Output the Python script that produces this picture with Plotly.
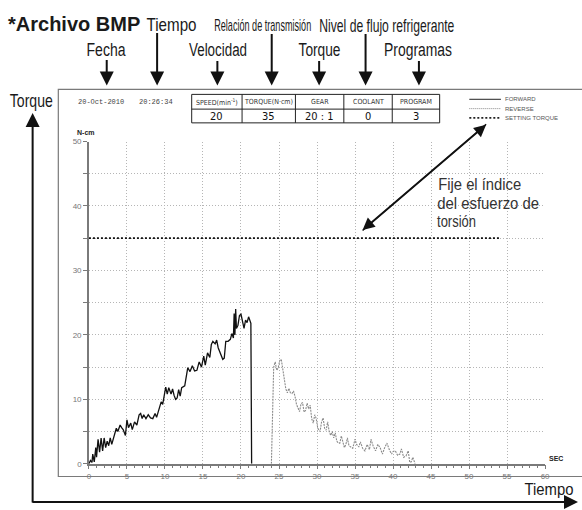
import json
import plotly.graph_objects as go

W, H = 582, 510

# ---------------- data ----------------
forward_t = [0.0, 0.2, 0.4, 0.5, 0.7, 0.9, 1.0, 1.2, 1.4, 1.6, 1.8, 2.0, 2.2, 2.4, 2.6, 2.8, 3.0,
             3.3, 3.6, 3.8, 4.1, 4.3, 4.5, 4.8, 5.0, 5.2, 5.5, 5.7, 6.0, 6.3, 6.6, 6.8, 7.0, 7.2,
             7.5, 7.8, 8.1, 8.4, 8.7, 8.9, 9.1, 9.3, 9.5, 9.7, 9.9, 10.1, 10.3, 10.5, 10.8, 11.0,
             11.2, 11.4, 11.6, 11.8, 12.0, 12.2, 12.6, 13.0, 13.3, 13.6, 13.9, 14.2, 14.5, 14.8,
             15.1, 15.3, 15.6, 15.9, 16.1, 16.3, 16.6, 16.8, 17.0, 17.3, 17.6, 17.8, 18.0, 18.3,
             18.6, 18.8, 19.0, 19.1, 19.2, 19.3, 19.4, 19.6, 19.8, 20.0, 20.2, 20.4, 20.6, 20.8,
             21.0, 21.2, 21.3, 21.4]
forward_v = [0.0, 0.5, 0.2, 1.5, 0.3, 2.5, 1.0, 3.8, 1.8, 4.0, 2.0, 4.0, 2.5, 3.5, 2.8, 4.0, 3.0,
             4.2, 5.5, 5.0, 6.0, 5.6, 5.3, 4.4, 6.8, 5.6, 6.3, 5.3, 6.5, 6.0, 7.6, 7.8, 7.0, 7.6,
             7.0, 7.6, 7.1, 7.0, 7.8, 7.2, 8.0, 8.6, 9.6, 9.2, 10.5, 11.9, 10.8, 11.8, 10.8, 11.6,
             10.6, 10.0, 10.2, 11.5, 10.5, 11.8, 12.1, 14.9, 14.3, 15.2, 14.4, 14.5, 15.8, 15.0,
             16.7, 15.3, 17.2, 16.5, 18.5, 19.0, 18.6, 19.2, 18.0, 17.0, 16.2, 16.4, 19.0, 19.0,
             19.3, 20.2, 19.5, 23.3, 20.0, 24.0, 21.0, 21.5, 23.0, 23.2, 22.0, 21.0, 22.3, 21.9,
             22.8, 22.0, 21.8, 0.0]

reverse_t = [24.0, 24.2, 24.3, 24.5, 24.7, 24.9, 25.1, 25.3, 25.5, 25.7, 25.9, 26.1, 26.3, 26.5,
             26.7, 26.9, 27.1, 27.3, 27.5, 27.7, 27.9, 28.1, 28.3, 28.5, 28.7, 28.9, 29.1, 29.3,
             29.5, 29.7, 29.9, 30.1, 30.4, 30.6, 30.8, 31.0, 31.2, 31.4, 31.6, 31.8, 32.0, 32.2,
             32.4, 32.6, 32.8, 33.0, 33.2, 33.4, 33.6, 33.8, 34.0, 34.2, 34.5, 34.7, 35.0, 35.2,
             35.5, 35.7, 36.0, 36.3, 36.6, 36.9, 37.1, 37.4, 37.7, 38.0, 38.3, 38.6, 38.9, 39.2,
             39.5, 39.8, 40.0, 40.3, 40.6, 40.9, 41.1, 41.4, 41.7, 42.0, 42.2, 42.4, 42.6, 42.9]
reverse_v = [0.0, 10.0, 15.0, 15.8, 14.5, 14.9, 16.0, 16.2, 14.5, 13.0, 11.6, 11.0, 11.7, 11.0,
             10.9, 11.3, 10.5, 9.2, 8.5, 8.1, 9.3, 9.5, 8.0, 8.3, 9.4, 8.5, 9.1, 7.0,
             6.3, 7.6, 7.0, 5.5, 5.0, 6.5, 7.1, 5.5, 5.2, 6.5, 5.0, 4.4, 5.0, 4.0,
             4.8, 3.5, 3.2, 3.2, 4.3, 3.5, 2.5, 3.0, 4.0, 2.8, 2.5, 2.4, 3.8, 3.0,
             2.6, 3.4, 2.4, 2.0, 3.0, 2.2, 3.8, 2.7, 2.0, 3.0, 2.5, 1.5, 2.5, 3.2,
             2.2, 1.5, 1.9, 2.0, 1.3, 1.5, 2.3, 1.0, 1.2, 2.0, 0.2, 0.3, 1.0, 0.0]

setting_t = [0, 54]
setting_v = [35, 35]

y_tickvals = [0, 5, 10, 15, 20, 25, 30, 35, 40, 45, 50]
y_ticktext = ["0", "", "10", "", "20", "", "30", "", "40", "", "50"]

table_headers = ["SPEED(min<sup>-1</sup>)", "TORQUE(N·cm)", "GEAR", "COOLANT", "PROGRAM"]
table_values = ["20", "35", "20 : 1", "0", "3"]
legend_labels = ["FORWARD", "REVERSE", "SETTING TORQUE"]
date_text = "20-Oct-2010"
time_text = "20:26:34"

COND = "DejaVu Sans Condensed, Liberation Sans, sans-serif"
SANS = "Liberation Sans, Arial, sans-serif"
MONO = "Liberation Mono, DejaVu Sans Mono, monospace"


def px(x):
    return x / W


def py(y):
    return 1 - y / H


fig = go.Figure()
fig.add_trace(go.Scatter(x=forward_t, y=forward_v, mode="lines",
                         line=dict(color="#111111", width=1.3), name="FORWARD"))
fig.add_trace(go.Scatter(x=reverse_t, y=reverse_v, mode="lines",
                         line=dict(color="#8a8a8a", width=1.1, dash="2px,1px"), name="REVERSE"))
fig.add_trace(go.Scatter(x=setting_t, y=setting_v, mode="lines",
                         line=dict(color="#111111", width=1.8, dash="2px,2px"), name="SETTING TORQUE"))

shapes = []
annotations = []
fit = {}

shapes.append(dict(type="rect", xref="paper", yref="paper", x0=px(57), x1=px(590), y0=py(481), y1=py(87),
                   line=dict(color="#7a7a7a", width=1.2)))

tx = [192, 243, 297, 346, 395, 443]
shapes.append(dict(type="rect", xref="paper", yref="paper", x0=px(tx[0]), x1=px(tx[-1]), y0=py(121), y1=py(92),
                   line=dict(color="#222", width=1)))
shapes.append(dict(type="line", xref="paper", yref="paper", x0=px(tx[0]), x1=px(tx[-1]), y0=py(107), y1=py(107),
                   line=dict(color="#222", width=1)))
for xx in tx[1:-1]:
    shapes.append(dict(type="line", xref="paper", yref="paper", x0=px(xx), x1=px(xx), y0=py(92), y1=py(121),
                       line=dict(color="#222", width=1)))
for i in range(5):
    cx = (tx[i] + tx[i + 1]) / 2
    annotations.append(dict(x=px(cx), y=py(99.5), xref="paper", yref="paper", text=table_headers[i],
                            showarrow=False, font=dict(family=COND, size=7, color="#333"),
                            xanchor="center", yanchor="middle"))
    annotations.append(dict(x=px(cx), y=py(114.5), xref="paper", yref="paper", text=table_values[i],
                            showarrow=False, font=dict(family=COND, size=11, color="#111"),
                            xanchor="center", yanchor="middle"))

annotations.append(dict(x=px(100), y=py(100), xref="paper", yref="paper", text=date_text, showarrow=False,
                        font=dict(family=MONO, size=7, color="#444"), xanchor="center", yanchor="middle"))
annotations.append(dict(x=px(155.5), y=py(100), xref="paper", yref="paper", text=time_text, showarrow=False,
                        font=dict(family=MONO, size=7, color="#444"), xanchor="center", yanchor="middle"))

leg_y = [97, 106.5, 116]
leg_styles = [dict(color="#222", width=1, dash="solid"),
              dict(color="#888", width=1, dash="1px,1px"),
              dict(color="#222", width=1.8, dash="2px,2px")]
for i in range(3):
    shapes.append(dict(type="line", xref="paper", yref="paper", x0=px(473), x1=px(505),
                       y0=py(leg_y[i]), y1=py(leg_y[i]), line=leg_styles[i]))
    annotations.append(dict(x=px(507), y=py(leg_y[i]), xref="paper", yref="paper", text=legend_labels[i],
                            showarrow=False, font=dict(family=SANS, size=6, color="#555"),
                            xanchor="left", yanchor="middle"))

annotations.append(dict(x=px(74), y=py(131), xref="paper", yref="paper", text="<b>N-cm</b>", showarrow=False,
                        font=dict(family=SANS, size=7, color="#222"), xanchor="left", yanchor="middle"))
annotations.append(dict(x=px(552), y=py(463), xref="paper", yref="paper", text="<b>SEC</b>", showarrow=False,
                        font=dict(family=SANS, size=7, color="#222"), xanchor="left", yanchor="middle"))


def txt(cx, cy, s, size, width=None, family=SANS, color="#1a1a1a"):
    if width is not None:
        fit[str(len(annotations))] = width
    annotations.append(dict(x=px(cx), y=py(cy), xref="paper", yref="paper", text=s, showarrow=False,
                            font=dict(family=family, size=size, color=color), xanchor="center",
                            yanchor="middle"))


txt(73, 20, "<b>*Archivo BMP</b>", 20)
txt(172, 20.5, "Tiempo", 18.5, 50)
txt(263.5, 22, "Relación de transmisión", 17, 97)
txt(389.5, 21.5, "Nivel de flujo refrigerante", 18.5, 135)
txt(105.5, 46.5, "Fecha", 18, 39)
txt(219, 46.5, "Velocidad", 18, 58)
txt(321, 46.5, "Torque", 18, 42)
txt(421, 46.5, "Programas", 18, 68)
txt(29.5, 98, "Torque", 18.5, 43)
txt(553.5, 494.5, "Tiempo", 17, 49)
txt(483.4, 184, "Fije el índice", 17, 83, color="#333")
txt(492, 203, "del esfuerzo de", 17, 102, color="#333")
txt(460.5, 221, "torsión", 17, 39, color="#333")


def arrow(x_tip, y_tip, x_tail, y_tail, width=2, size=1.4):
    annotations.append(dict(x=px(x_tip), y=py(y_tip), xref="paper", yref="paper", text="",
                            showarrow=True, arrowhead=2, arrowwidth=width, arrowsize=size,
                            arrowcolor="#111", ax=x_tail - x_tip, ay=y_tail - y_tip, axref="pixel",
                            ayref="pixel", standoff=0, startstandoff=0))


arrow(106, 83, 106, 56)
arrow(157, 83, 157, 29)
arrow(218, 83, 218, 57)
arrow(273, 83, 273, 30)
arrow(321, 83, 321, 57)
arrow(368, 83, 368, 30)
arrow(422, 83, 422, 57)
arrow(31, 111, 31, 502)
arrow(583, 507, 36, 507)
arrow(490, 123, 365, 230, 1.5, 1.6)
arrow(365, 230, 490, 123, 1.5, 1.6)

axis_font = dict(family=SANS, size=8, color="#777")

fig.update_layout(
    width=W, height=H, autosize=False,
    margin=dict(l=0, r=0, t=0, b=0),
    paper_bgcolor="white", plot_bgcolor="white",
    showlegend=False,
    shapes=shapes, annotations=annotations,
    xaxis=dict(domain=[px(88), px(549.7)], range=[0, 60], dtick=5, tick0=0,
               showgrid=True, gridcolor="#b5b5b5", griddash="1px,2px", gridwidth=1,
               showline=True, linecolor="#7a7a7a", linewidth=1.5, zeroline=False,
               ticks="outside", ticklen=4, tickcolor="#7a7a7a", tickfont=axis_font,
               minor=dict(dtick=1, ticks="outside", ticklen=2.5, tickcolor="#7a7a7a", showgrid=False)),
    yaxis=dict(domain=[py(468), py(140)], range=[0, 50], tickvals=y_tickvals, ticktext=y_ticktext,
               showgrid=True, gridcolor="#b5b5b5", griddash="1px,2px", gridwidth=1,
               showline=True, linecolor="#7a7a7a", linewidth=1.5, zeroline=False,
               ticks="outside", ticklen=4, tickcolor="#7a7a7a", tickfont=axis_font),
)

post = """
document.body.style.margin = '0';
var fit = %s;
document.querySelectorAll('g.annotation').forEach(function(g) {
  var i = g.getAttribute('data-index');
  if (fit[i] === undefined) { return; }
  var t = g.querySelector('text.annotation-text');
  if (!t) { return; }
  t.setAttribute('textLength', fit[i]);
  t.setAttribute('lengthAdjust', 'spacingAndGlyphs');
  var r = g.querySelector('rect.bg');
  if (r) {
    var oldW = parseFloat(r.getAttribute('width')) || 0;
    var newW = fit[i] + 4;
    if (newW < oldW) {
      var x0 = parseFloat(r.getAttribute('x')) || 0;
      r.setAttribute('x', x0 + (oldW - newW) / 2);
      r.setAttribute('width', newW);
    }
  }
});
""" % json.dumps(fit)

fig.write_html("out.html", config={"displayModeBar": False}, post_script=post)
